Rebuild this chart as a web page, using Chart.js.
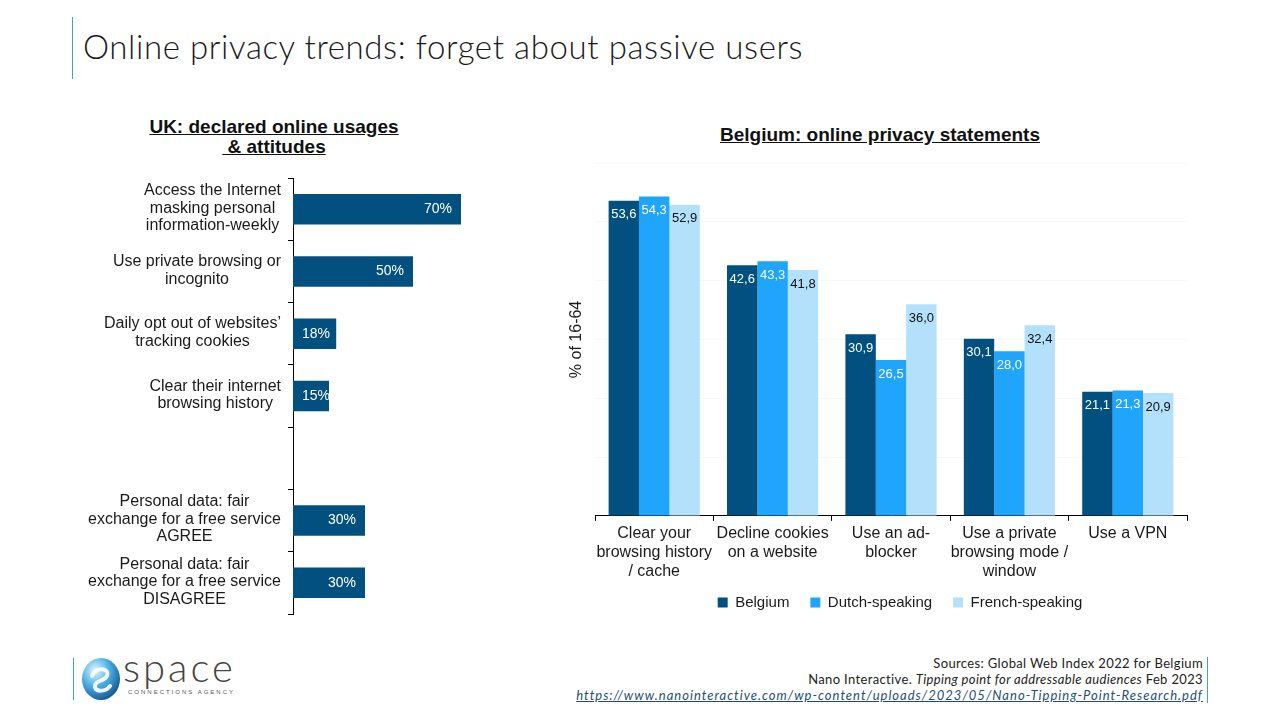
<!DOCTYPE html>
<html><head><meta charset="utf-8">
<script src="https://cdn.jsdelivr.net/npm/chart.js@4/dist/chart.umd.min.js"></script>
<style>
html,body{margin:0;padding:0;background:#fff;width:1280px;height:720px;overflow:hidden;font-family:"Liberation Sans",Arial,sans-serif;}
.abs{position:absolute;}
#title{left:83px;top:26px;font-family:Lato,"Open Sans",sans-serif;font-weight:300;font-size:33px;letter-spacing:0.6px;color:#1a1a1a;white-space:nowrap;}
#tline{left:72px;top:17px;width:1px;height:62px;background:#3fa7b5;}
.sub{font-weight:bold;font-size:19px;color:#111;text-decoration:underline;text-align:center;line-height:20px;white-space:nowrap;}
#ukTitle{left:124px;top:117px;width:300px;}
#beTitle{left:680px;top:125px;width:400px;}
#src{right:77px;top:655px;text-align:right;font-family:Lato,"Open Sans",sans-serif;font-size:13px;letter-spacing:0.35px;line-height:16px;color:#222;white-space:nowrap;}
#src a{color:#1f4e79;font-style:italic;text-decoration:underline;letter-spacing:1px;}
#bline{left:73px;top:658px;width:1px;height:42px;background:#3fa7b5;}
#rline{left:1207px;top:657px;width:1px;height:46px;background:#3fa7b5;}
#space{left:123px;top:650px;line-height:34px;font-family:Lato,"Open Sans",sans-serif;font-weight:300;font-size:40px;color:#444;letter-spacing:3px;}
#agency{left:128px;top:689px;font-size:6px;line-height:7px;letter-spacing:2px;color:#555;white-space:nowrap;}
</style></head>
<body>
<div class="abs" id="tline"></div>
<div class="abs" id="title">Online privacy trends: forget about passive users</div>
<div class="abs sub" id="ukTitle">UK: declared online usages<br>&nbsp;&amp; attitudes</div>
<div class="abs sub" id="beTitle">Belgium: online privacy statements</div>
<canvas class="abs" id="ukChart" width="405" height="452" style="left:85px;top:170px;width:405px;height:452px;"></canvas>
<canvas class="abs" id="beChart" width="690" height="482" style="left:555px;top:150px;width:690px;height:482px;"></canvas>
<div class="abs" id="bline"></div>
<svg class="abs" style="left:80px;top:656px" width="42" height="46" viewBox="0 0 42 46">
<defs><radialGradient id="g" cx="0.35" cy="0.3" r="0.8"><stop offset="0" stop-color="#e8f6fd"/><stop offset="0.45" stop-color="#4fb3e6"/><stop offset="1" stop-color="#0b4a86"/></radialGradient></defs>
<ellipse cx="21" cy="23" rx="19" ry="21" fill="url(#g)"/>
<path d="M12 20 C16 10, 30 12, 27 20 C24 26, 14 24, 15 31 C16 36, 26 36, 30 30" fill="none" stroke="#fff" stroke-width="4" stroke-linecap="round" opacity="0.9"/>
</svg>
<div class="abs" id="space">space</div>
<div class="abs" id="agency">CONNECTIONS AGENCY</div>
<div class="abs" id="src">Sources: Global Web Index 2022 for Belgium<br>Nano Interactive. <i>Tipping point for addressable audiences</i> Feb 2023<br><a>https://www.nanointeractive.com/wp-content/uploads/2023/05/Nano-Tipping-Point-Research.pdf</a></div>
<div class="abs" id="rline"></div>
<script>
// ---- UK data ----
const ukCategories = [
  ["Access the Internet","masking personal","information-weekly"],
  ["Use private browsing or","incognito"],
  ["Daily opt out of websites\u2019","tracking cookies"],
  ["Clear their internet","browsing history"],
  [],
  ["Personal data: fair","exchange for a free service","AGREE"],
  ["Personal data: fair","exchange for a free service","DISAGREE"]
];
const ukValues = [70, 50, 18, 15, null, 30, 30];

// ---- Belgium data ----
const beCategories = [
  ["Clear your","browsing history","/ cache"],
  ["Decline cookies","on a website"],
  ["Use an ad-","blocker"],
  ["Use a private","browsing mode /","window"],
  ["Use a VPN"]
];
const seriesNames = ["Belgium","Dutch-speaking","French-speaking"];
const belgium = [53.6, 42.6, 30.9, 30.1, 21.1];
const dutch   = [54.3, 43.3, 26.5, 28.0, 21.3];
const french  = [52.9, 41.8, 36.0, 32.4, 20.9];

const FONT = '"Liberation Sans", Arial, sans-serif';
const DARK = '#02507f', MID = '#1fa5fc', LIGHT = '#b3e0fa';

// UK chart
const ukLabelPlugin = {
  id: 'ukLabels',
  afterDraw(chart) {
    const ctx = chart.ctx, ys = chart.scales.y;
    ctx.save();
    ctx.font = '16px ' + FONT;
    ctx.fillStyle = '#1a1a1a';
    ctx.textAlign = 'center';
    ctx.textBaseline = 'middle';
    ukCategories.forEach((lines, i) => {
      if (!lines.length) return;
      const w = Math.max(...lines.map(l => ctx.measureText(l).width));
      const cx = ys.right - 12 - w / 2;
      const cy = ys.getPixelForValue(i) - 1;
      const lh = 17.5;
      lines.forEach((l, k) => ctx.fillText(l, cx, cy + (k - (lines.length - 1) / 2) * lh));
    });
    const meta = chart.getDatasetMeta(0);
    ctx.font = '14px ' + FONT;
    ctx.fillStyle = '#fff';
    meta.data.forEach((el, i) => {
      const v = ukValues[i];
      if (v == null) return;
      const cx = Math.max(el.x - 23, el.base + 23);
      ctx.fillText(v + '%', cx, el.y);
    });
    ctx.restore();
  }
};

new Chart(document.getElementById('ukChart'), {
  type: 'bar',
  data: {
    labels: ukCategories.map(l => l.join(' ')),
    datasets: [{ data: ukValues, backgroundColor: DARK, barPercentage: 1, categoryPercentage: 0.49 }]
  },
  options: {
    indexAxis: 'y',
    responsive: false,
    animation: false,
    devicePixelRatio: 1,
    layout: { padding: { left: 0, top: 8, right: 5, bottom: 8 } },
    plugins: { legend: { display: false }, tooltip: { enabled: false } },
    scales: {
      x: { type: 'linear', min: 0, max: 80, display: false },
      y: {
        type: 'category',
        ticks: { display: false },
        grid: { offset: true, drawOnChartArea: false, tickLength: 5, color: '#000', lineWidth: 1 },
        border: { display: true, color: '#000', width: 1 },
        afterFit(scale) { scale.width = 208; }
      }
    }
  },
  plugins: [ukLabelPlugin]
});

// Belgium chart
const beLabelPlugin = {
  id: 'beLabels',
  afterLayout(chart) {
    const lg = chart.legend;
    if (lg) { lg.top -= 10; lg.bottom -= 10; }
  },
  afterDatasetsDraw(chart) {
    const ctx = chart.ctx;
    ctx.save();
    ctx.font = '13px ' + FONT;
    ctx.textAlign = 'center';
    ctx.textBaseline = 'middle';
    const cols = ['#fff', '#fff', '#111'];
    chart.data.datasets.forEach((ds, di) => {
      const meta = chart.getDatasetMeta(di);
      ctx.fillStyle = cols[di];
      meta.data.forEach((el, i) => {
        ctx.fillText(ds.data[i].toFixed(1).replace('.', ','), el.x, el.y + 14);
      });
    });
    ctx.restore();
  }
};

new Chart(document.getElementById('beChart'), {
  type: 'bar',
  data: {
    labels: beCategories,
    datasets: [
      { label: seriesNames[0], data: belgium, backgroundColor: DARK },
      { label: seriesNames[1], data: dutch, backgroundColor: MID },
      { label: seriesNames[2], data: french, backgroundColor: LIGHT }
    ]
  },
  options: {
    responsive: false,
    animation: false,
    devicePixelRatio: 1,
    datasets: { bar: { barPercentage: 1, categoryPercentage: 0.77 } },
    layout: { padding: { left: 0, top: 13, right: 0, bottom: 2 } },
    plugins: {
      tooltip: { enabled: false },
      legend: {
        position: 'bottom',
        labels: { boxWidth: 10, boxHeight: 10, padding: 21, color: '#1a1a1a', font: { family: FONT, size: 15 } }
      }
    },
    scales: {
      x: {
        ticks: { color: '#1a1a1a', font: { family: FONT, size: 16, lineHeight: 1.19 }, maxRotation: 0, autoSkip: false, padding: 3 },
        grid: { offset: true, drawOnChartArea: false, tickLength: 5, color: '#000' },
        border: { display: true, color: '#000' }
      },
      y: {
        min: 0, max: 60,
        ticks: { display: false, stepSize: 10 },
        grid: { color: '#f8f8f8', drawTicks: false },
        border: { display: false },
        title: { display: true, text: '% of 16-64', color: '#1a1a1a', padding: { top: 12, bottom: 0 }, font: { family: FONT, size: 16 } },
        afterFit(scale) { scale.width = 40; }
      },
      y2: {
        type: 'linear', position: 'right', display: true,
        ticks: { display: false }, grid: { display: false }, border: { display: false },
        afterFit(scale) { scale.width = 58; }
      }
    }
  },
  plugins: [beLabelPlugin]
});
</script>
</body></html>
